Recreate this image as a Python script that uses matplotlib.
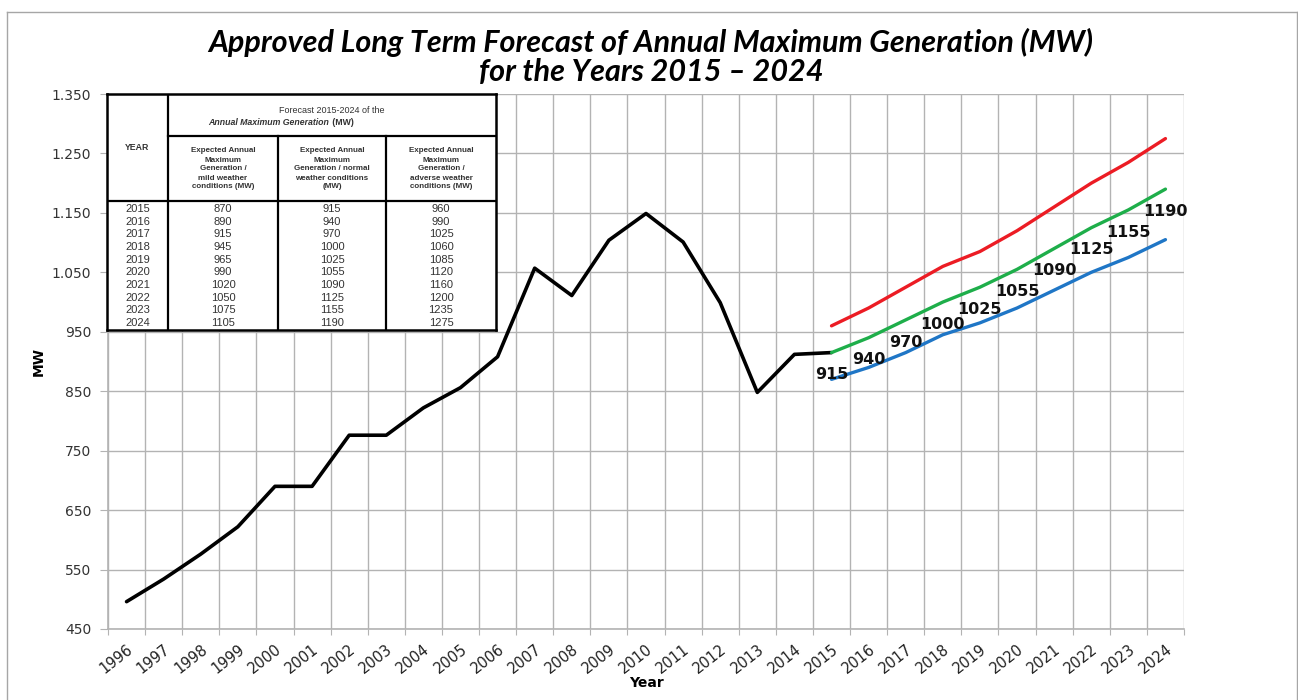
import matplotlib
matplotlib.use("Agg")
import matplotlib.pyplot as plt
from matplotlib.lines import Line2D
import numpy as np

# ---------------- data ----------------
categories = [str(y) for y in range(1996, 2025)]
hist_years = [str(y) for y in range(1996, 2016)]
hist_values = [496, 534, 576, 622, 690, 690, 776, 776, 822, 856,
               908, 1057, 1011, 1104, 1149, 1101, 999, 848, 912, 915]
fc_years = [str(y) for y in range(2015, 2025)]
mild = [870, 890, 915, 945, 965, 990, 1020, 1050, 1075, 1105]
normal = [915, 940, 970, 1000, 1025, 1055, 1090, 1125, 1155, 1190]
adverse = [960, 990, 1025, 1060, 1085, 1120, 1160, 1200, 1235, 1275]
y_ticks = [450, 550, 650, 750, 850, 950, 1050, 1150, 1250, 1350]
y_tick_labels = ["450", "550", "650", "750", "850", "950",
                 "1.050", "1.150", "1.250", "1.350"]

title_lines = ["Approved Long Term Forecast of Annual Maximum Generation (MW)",
               "for the Years 2015 \u2013 2024"]

W, H = 1298, 700
fig = plt.figure(figsize=(W / 100, H / 100), dpi=100)
fig.patch.set_facecolor("white")

def fx(px):
    return px / W

def fy(py):
    return 1 - py / H

# figure border
for xs, ys in [((7, 7), (12, 700)), ((7, 1297), (12, 12)), ((1297, 1297), (12, 700))]:
    fig.add_artist(Line2D([fx(xs[0]), fx(xs[1])], [fy(ys[0]), fy(ys[1])],
                          color="#a6a6a6", lw=1.0, transform=fig.transFigure))

ax = fig.add_axes([fx(108), fy(629), fx(1184) - fx(108), fy(94) - fy(629)])
pos = {c: i for i, c in enumerate(categories)}
n = len(categories)

ax.set_xlim(-0.5, n - 0.5)
ax.set_ylim(y_ticks[0], y_ticks[-1])

grid_c = "#b3b3b3"
ax.set_xticks(np.arange(n + 1) - 0.5)
ax.set_xticklabels([])
ax.set_xticks(np.arange(n), minor=True)
ax.set_xticklabels(categories, minor=True, rotation=38, ha="right", va="top",
                   rotation_mode="anchor", fontsize=10.5, color="#222222")
ax.tick_params(axis="x", which="minor", length=0, pad=9)
ax.tick_params(axis="x", which="major", length=4, color=grid_c, direction="out")
ax.set_yticks(y_ticks)
ax.set_yticklabels(y_tick_labels, fontsize=10, color="#333333")
ax.tick_params(axis="y", length=6, color=grid_c, pad=6)
ax.grid(True, which="major", color=grid_c, lw=1.0)
ax.set_axisbelow(True)
for s in ["top", "right"]:
    ax.spines[s].set_visible(False)
for s in ["left", "bottom"]:
    ax.spines[s].set_color(grid_c)
    ax.spines[s].set_linewidth(1.2)

ax.set_xlabel("Year", fontsize=10, fontweight="bold", labelpad=0)
ax.set_ylabel("MW", fontsize=10, fontweight="bold", labelpad=4)

hx = [pos[c] for c in hist_years]
fxs = [pos[c] for c in fc_years]
ax.plot(hx, hist_values, color="black", lw=2.6, solid_joinstyle="round", solid_capstyle="round", zorder=3)
ax.plot(fxs, adverse, color="#ec1c24", lw=2.4, solid_capstyle="round", zorder=3)
ax.plot(fxs, normal, color="#1eae4a", lw=2.4, solid_capstyle="round", zorder=3)
ax.plot(fxs, mild, color="#1f76c6", lw=2.4, solid_capstyle="round", zorder=3)

for xv, v in zip(fxs, normal):
    ax.annotate(str(v), (xv, v), xytext=(0, -16), textcoords="offset points",
                ha="center", va="center", fontsize=11.5, fontweight="bold",
                color="#111111", zorder=4)

# title
for yy, line in zip([42, 72], title_lines):
    fig.text(fx(651), fy(yy), line, ha="center", va="center", fontsize=22,
             fontweight="bold", fontstyle="italic", family=["Lato", "DejaVu Sans"])

# ---------------- table ----------------
tx0, tx1, ty0, ty1 = 107, 496, 94, 330
tab = fig.add_axes([fx(tx0), fy(ty1), fx(tx1) - fx(tx0), fy(ty0) - fy(ty1)])
tab.set_xlim(tx0, tx1)
tab.set_ylim(ty1, ty0)
tab.set_facecolor("white")
tab.set_xticks([])
tab.set_yticks([])
for s in tab.spines.values():
    s.set_color("black")
    s.set_linewidth(1.8)

c1, c2, c3 = 168, 278, 386
hsplit, dtop = 136, 201
lk = dict(color="black", lw=1.6)
tab.plot([c1, c1], [ty0, ty1], **lk)
tab.plot([c2, c2], [hsplit, ty1], **lk)
tab.plot([c3, c3], [hsplit, ty1], **lk)
tab.plot([c1, tx1], [hsplit, hsplit], **lk)
tab.plot([tx0, tx1], [dtop, dtop], **lk)

tcol = "#333333"
tf = "Liberation Sans"
tab.text((tx0 + c1) / 2, (ty0 + dtop) / 2, "YEAR", ha="center", va="center",
         fontsize=6.3, fontweight="bold", color=tcol, family=tf)
tab.text((c1 + tx1) / 2 - 0.5, 110.5, "Forecast 2015-2024 of the", ha="center", va="center",
         fontsize=6.5, color=tcol, family=tf)
tab.text(329, 122.5, "Annual Maximum Generation", ha="right", va="center",
         fontsize=6.3, fontweight="bold", fontstyle="italic", color=tcol, family=tf)
tab.text(330, 122.5, " (MW)", ha="left", va="center",
         fontsize=6.3, fontweight="bold", color=tcol, family=tf)

sub_headers = [
    "Expected Annual\nMaximum\nGeneration /\nmild weather\nconditions (MW)",
    "Expected Annual\nMaximum\nGeneration / normal\nweather conditions\n(MW)",
    "Expected Annual\nMaximum\nGeneration /\nadverse weather\nconditions (MW)",
]
col_centers = [(tx0 + c1) / 2, (c1 + c2) / 2, (c2 + c3) / 2, (c3 + tx1) / 2]
for cx, txt in zip(col_centers[1:], sub_headers):
    tab.text(cx, (hsplit + dtop) / 2 + 0.5, txt, ha="center", va="center",
             fontsize=5.8, fontweight="bold", color=tcol, family=tf,
             linespacing=1.4)

row_h = (ty1 - dtop - 2) / len(fc_years)
for i, yr in enumerate(fc_years):
    yy = dtop + 1.5 + row_h * (i + 0.5)
    for cx, val in zip(col_centers, [yr, mild[i], normal[i], adverse[i]]):
        tab.text(cx, yy, str(val), ha="center", va="center", fontsize=8,
                 color=tcol, family=tf)

fig.savefig("out.png", dpi=100, facecolor="white")
